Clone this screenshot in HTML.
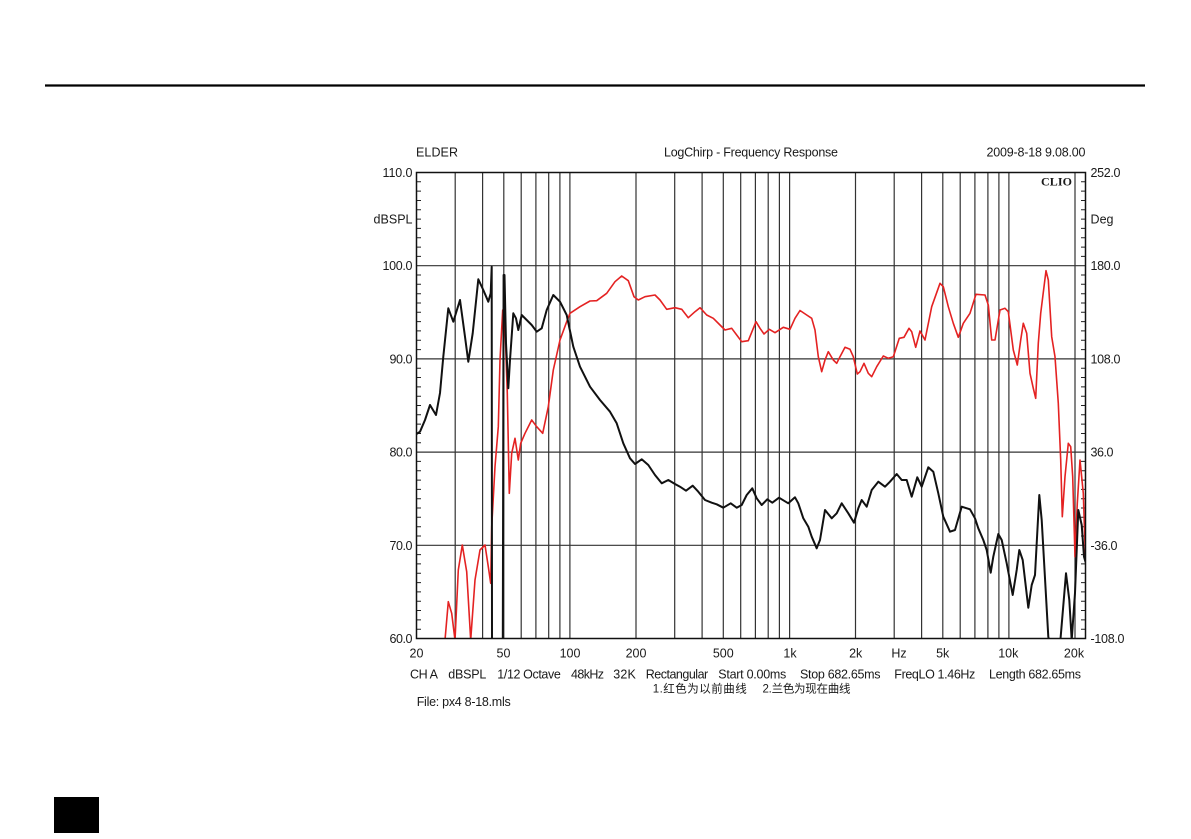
<!DOCTYPE html>
<html><head><meta charset="utf-8"><style>
html,body{margin:0;padding:0;background:#fff;}
svg{display:block;}
text{font-family:"Liberation Sans","Noto Sans CJK SC",sans-serif;fill:#1a1a1a;}
</style></head><body>
<svg width="1191" height="839" viewBox="0 0 1191 839" xmlns="http://www.w3.org/2000/svg">
<rect x="0" y="0" width="1191" height="839" fill="#fff"/>
<line x1="45" y1="85.5" x2="1145" y2="85.5" stroke="#000" stroke-width="2.2"/>
<rect x="54" y="797" width="45" height="36" fill="#000"/>

<defs><clipPath id="pc"><rect x="416.5" y="172.5" width="669" height="466"/></clipPath></defs>

<g stroke="#333" stroke-width="1.2" fill="none">
<line x1="455.2" y1="172.5" x2="455.2" y2="638.5"/>
<line x1="482.6" y1="172.5" x2="482.6" y2="638.5"/>
<line x1="503.8" y1="172.5" x2="503.8" y2="638.5"/>
<line x1="521.2" y1="172.5" x2="521.2" y2="638.5"/>
<line x1="535.9" y1="172.5" x2="535.9" y2="638.5"/>
<line x1="548.7" y1="172.5" x2="548.7" y2="638.5"/>
<line x1="559.9" y1="172.5" x2="559.9" y2="638.5"/>
<line x1="569.9" y1="172.5" x2="569.9" y2="638.5"/>
<line x1="636" y1="172.5" x2="636" y2="638.5"/>
<line x1="674.7" y1="172.5" x2="674.7" y2="638.5"/>
<line x1="702.1" y1="172.5" x2="702.1" y2="638.5"/>
<line x1="723.3" y1="172.5" x2="723.3" y2="638.5"/>
<line x1="740.7" y1="172.5" x2="740.7" y2="638.5"/>
<line x1="755.4" y1="172.5" x2="755.4" y2="638.5"/>
<line x1="768.2" y1="172.5" x2="768.2" y2="638.5"/>
<line x1="779.4" y1="172.5" x2="779.4" y2="638.5"/>
<line x1="789.6" y1="172.5" x2="789.6" y2="638.5"/>
<line x1="855.5" y1="172.5" x2="855.5" y2="638.5"/>
<line x1="894.2" y1="172.5" x2="894.2" y2="638.5"/>
<line x1="921.6" y1="172.5" x2="921.6" y2="638.5"/>
<line x1="942.8" y1="172.5" x2="942.8" y2="638.5"/>
<line x1="960.2" y1="172.5" x2="960.2" y2="638.5"/>
<line x1="974.9" y1="172.5" x2="974.9" y2="638.5"/>
<line x1="987.9" y1="172.5" x2="987.9" y2="638.5"/>
<line x1="998.9" y1="172.5" x2="998.9" y2="638.5"/>
<line x1="1008.9" y1="172.5" x2="1008.9" y2="638.5"/>
<line x1="1075" y1="172.5" x2="1075" y2="638.5"/>
<line x1="416.5" y1="265.7" x2="1085.5" y2="265.7"/>
<line x1="416.5" y1="358.9" x2="1085.5" y2="358.9"/>
<line x1="416.5" y1="452.1" x2="1085.5" y2="452.1"/>
<line x1="416.5" y1="545.3" x2="1085.5" y2="545.3"/>
</g>

<g stroke="#222" stroke-width="1">
<path d="M416.5 181.8h4.5M416.5 191.1h4.5M416.5 200.5h4.5M416.5 209.8h4.5M416.5 219.1h4.5M416.5 228.4h4.5M416.5 237.7h4.5M416.5 247.1h4.5M416.5 256.4h4.5M416.5 275h4.5M416.5 284.3h4.5M416.5 293.7h4.5M416.5 303h4.5M416.5 312.3h4.5M416.5 321.6h4.5M416.5 330.9h4.5M416.5 340.3h4.5M416.5 349.6h4.5M416.5 368.2h4.5M416.5 377.5h4.5M416.5 386.9h4.5M416.5 396.2h4.5M416.5 405.5h4.5M416.5 414.8h4.5M416.5 424.1h4.5M416.5 433.5h4.5M416.5 442.8h4.5M416.5 461.4h4.5M416.5 470.7h4.5M416.5 480.1h4.5M416.5 489.4h4.5M416.5 498.7h4.5M416.5 508h4.5M416.5 517.3h4.5M416.5 526.7h4.5M416.5 536h4.5M416.5 554.6h4.5M416.5 563.9h4.5M416.5 573.3h4.5M416.5 582.6h4.5M416.5 591.9h4.5M416.5 601.2h4.5M416.5 610.5h4.5M416.5 619.9h4.5M416.5 629.2h4.5"/>
<path d="M1085.5 181.8h-4.5M1085.5 191.1h-4.5M1085.5 200.5h-4.5M1085.5 209.8h-4.5M1085.5 219.1h-4.5M1085.5 228.4h-4.5M1085.5 237.7h-4.5M1085.5 247.1h-4.5M1085.5 256.4h-4.5M1085.5 275h-4.5M1085.5 284.3h-4.5M1085.5 293.7h-4.5M1085.5 303h-4.5M1085.5 312.3h-4.5M1085.5 321.6h-4.5M1085.5 330.9h-4.5M1085.5 340.3h-4.5M1085.5 349.6h-4.5M1085.5 368.2h-4.5M1085.5 377.5h-4.5M1085.5 386.9h-4.5M1085.5 396.2h-4.5M1085.5 405.5h-4.5M1085.5 414.8h-4.5M1085.5 424.1h-4.5M1085.5 433.5h-4.5M1085.5 442.8h-4.5M1085.5 461.4h-4.5M1085.5 470.7h-4.5M1085.5 480.1h-4.5M1085.5 489.4h-4.5M1085.5 498.7h-4.5M1085.5 508h-4.5M1085.5 517.3h-4.5M1085.5 526.7h-4.5M1085.5 536h-4.5M1085.5 554.6h-4.5M1085.5 563.9h-4.5M1085.5 573.3h-4.5M1085.5 582.6h-4.5M1085.5 591.9h-4.5M1085.5 601.2h-4.5M1085.5 610.5h-4.5M1085.5 619.9h-4.5M1085.5 629.2h-4.5"/>
</g>

<g clip-path="url(#pc)" fill="none" stroke-linejoin="round" stroke-linecap="round">
<polyline stroke="#e42222" stroke-width="1.6" points="445,640 448.3,601.7 451.7,613.3 455,640 458.3,570 462.3,545 466.7,571.7 470.7,640 475,580 480,550 485,545 488.3,566.7 490.7,583.3 491.7,526.7 495,466.7 498.3,426.7 500,360 502.7,310 505,326.7 507.3,393.3 509.3,493.3 511.7,453.3 515,438.3 518.3,460 520.7,443.3 525,433.3 531.7,420 536.7,426.7 542.7,433.3 548.3,406.7 553.3,370 560,340 566.7,321.7 570,313.3 580,306.7 590,301 596.7,300.7 606.7,293.3 615,281.7 621.7,276 628.3,280.7 634,296.7 638.3,300 645,296.7 655,295 660,300 666.7,309.3 675,307.7 681.7,309.3 688.3,317.7 695,311.7 700,307.7 706.7,315 713.3,318.3 720,325 725,330 731.7,328.3 736.7,335 741.7,341.7 748.3,340.7 756,321.7 760,328.3 764,334 769.3,329.3 775,332.7 783.3,327.3 790,329.3 795,318.3 800,310.5 806.7,315 811.7,318.3 815,330 818.3,356.7 821.7,371.7 825,360 828.3,351.7 833.3,360 836.7,363.3 840,356.7 845,347.3 850,349.3 853.3,356.7 857.3,374 860,371.7 864,363.3 868.3,373.3 871.7,376.7 876.7,366.7 883.3,356 888.3,358.3 893.3,356.7 899.3,338.3 904,337.3 909,328.3 911.7,331.7 915.7,347.3 920,331 925,340 931.7,306.7 940,283.3 943.3,286.7 948.3,306.7 953.3,323.3 958.3,337.3 963.3,323.3 970,313.3 976,294.3 985,295 988.3,305 991.7,340 995,340 1000,310 1005,308.3 1008.3,311.7 1013.3,350 1017.3,365 1020.7,340 1023.3,323.3 1026.7,333.3 1030,373.3 1033.3,388.3 1035.7,398.3 1038.3,343.3 1040.7,313.3 1046,270.7 1048.3,280 1051.7,336.7 1055,356.7 1058.3,403.3 1060.7,460 1062.3,516.7 1065,476.7 1068.3,443.3 1070.7,446.7 1072.7,476.7 1075,556.7 1077.3,503.3 1080,460 1083.3,493.3 1085.5,560"/>
<polyline stroke="#111" stroke-width="2" points="416.5,434 420,431.7 425,420 430,405 436,415 440,393 443.3,356.7 448.3,308.3 453.3,321.7 460,300 465,336.7 468.3,361.7 472.7,333.3 478.3,279.3 483.3,290 488.3,301.7 490.7,293.3 491.7,266.7 492,642 502.8,642 503.6,275 504.5,275 506,343 508.3,388.3 510,360 513.3,313.3 516,318.3 518.3,330 521.7,315 526.7,320 531.7,325 536.7,331.7 541.7,328.3 546.7,310 553.3,295 560,301.7 566.7,315 573.3,346.7 580,366.7 590,386.7 600,400 610,411.7 616.7,423.3 623.3,443.3 630,458.3 635,464 641.7,459.3 648.3,465 655,475 661.7,483.3 668.3,480 675,484 680,486.7 686,490.7 692.7,485.7 698.3,491.7 705,500 711.7,502.7 716.7,504.3 723.3,507.7 730.7,503.3 736.7,507.7 741.7,505 746.7,495 752.3,488.3 756.7,498.3 761.7,505 767.3,499.3 772.3,502.7 779,497.7 788.3,503.3 795,497.3 798.3,503.3 803.3,518.3 808.3,526.7 811.7,536.7 816.7,548.3 820,540 825,510 831.7,518.3 836.7,513.3 841.7,503.3 848.3,513.3 854,522.7 858.3,508.3 861.7,500 866.7,506.7 871.7,490 878.3,481.7 885,486.7 890,481.7 896.7,474 901.7,480 906.7,480 911.7,496.7 917.3,477.3 921.7,486.7 928.3,467.3 933.3,471.7 938.3,493.3 943.3,516.7 950,531.7 955,530 961.7,506.7 970,509.3 975,518.3 978.3,528.3 983.3,540 986.7,550 990.7,572.7 993.3,556.7 998.3,534 1001.7,540 1006.7,563.3 1012.7,595 1016.7,570 1019.3,550 1022.7,560 1028.3,607.7 1031.7,585 1035,575 1039.3,495 1041.7,520 1048.3,636.7 1050,645 1060,645 1066,573.3 1069.3,600 1071.7,640 1075,593 1078.3,510 1081.7,525 1084,556.7 1085.5,562"/>
</g>

<rect x="416.5" y="172.5" width="669" height="466" fill="none" stroke="#111" stroke-width="1.5"/>

<text x="1041" y="185.5" font-size="12" textLength="31" style="font-family:'Liberation Serif',serif;font-weight:bold;">CLIO</text>

<g font-size="12.5">
<text x="416" y="156.5" textLength="42">ELDER</text>
<text x="751" y="156.5" text-anchor="middle" textLength="174">LogChirp - Frequency Response</text>
<text x="1085.5" y="156.5" text-anchor="end" textLength="99">2009-8-18 9.08.00</text>

<g text-anchor="end">
<text x="412.5" y="177" textLength="30">110.0</text>
<text x="412.5" y="223.5" textLength="39">dBSPL</text>
<text x="412.5" y="270.2" textLength="30">100.0</text>
<text x="412.5" y="363.4" textLength="23">90.0</text>
<text x="412.5" y="456.6" textLength="23">80.0</text>
<text x="412.5" y="549.8" textLength="23">70.0</text>
<text x="412.5" y="643" textLength="23">60.0</text>
</g>
<text x="1090.5" y="177" textLength="30">252.0</text>
<text x="1090.5" y="223.5" textLength="23">Deg</text>
<text x="1090.5" y="270.2" textLength="30">180.0</text>
<text x="1090.5" y="363.4" textLength="30">108.0</text>
<text x="1090.5" y="456.6" textLength="23">36.0</text>
<text x="1090.5" y="549.8" textLength="27">-36.0</text>
<text x="1090.5" y="643" textLength="34">-108.0</text>

<g text-anchor="middle">
<text x="416.5" y="657.5">20</text>
<text x="503.5" y="657.5">50</text>
<text x="570" y="657.5">100</text>
<text x="636" y="657.5">200</text>
<text x="723.3" y="657.5">500</text>
<text x="790" y="657.5">1k</text>
<text x="855.7" y="657.5">2k</text>
<text x="899" y="657.5">Hz</text>
<text x="942.7" y="657.5">5k</text>
<text x="1008.3" y="657.5">10k</text>
<text x="1074" y="657.5">20k</text>
</g>

<text x="410" y="678.5" textLength="28">CH A</text>
<text x="448.3" y="678.5" textLength="38">dBSPL</text>
<text x="497.3" y="678.5" textLength="63.5">1/12 Octave</text>
<text x="571" y="678.5" textLength="33">48kHz</text>
<text x="613.3" y="678.5" textLength="22.5">32K</text>
<text x="645.7" y="678.5" textLength="62.5">Rectangular</text>
<text x="718.3" y="678.5" textLength="68">Start 0.00ms</text>
<text x="800" y="678.5" textLength="80.5">Stop 682.65ms</text>
<text x="894.3" y="678.5" textLength="81">FreqLO 1.46Hz</text>
<text x="989" y="678.5" textLength="92">Length 682.65ms</text>
</g>
<text x="652.7" y="692.5" font-size="11.5" textLength="94">1.红色为以前曲线</text>
<text x="762.5" y="692.5" font-size="11.5" textLength="88">2.兰色为现在曲线</text>
<text x="416.7" y="706" font-size="12.5" textLength="94">File: px4 8-18.mls</text>
</svg>
</body></html>
